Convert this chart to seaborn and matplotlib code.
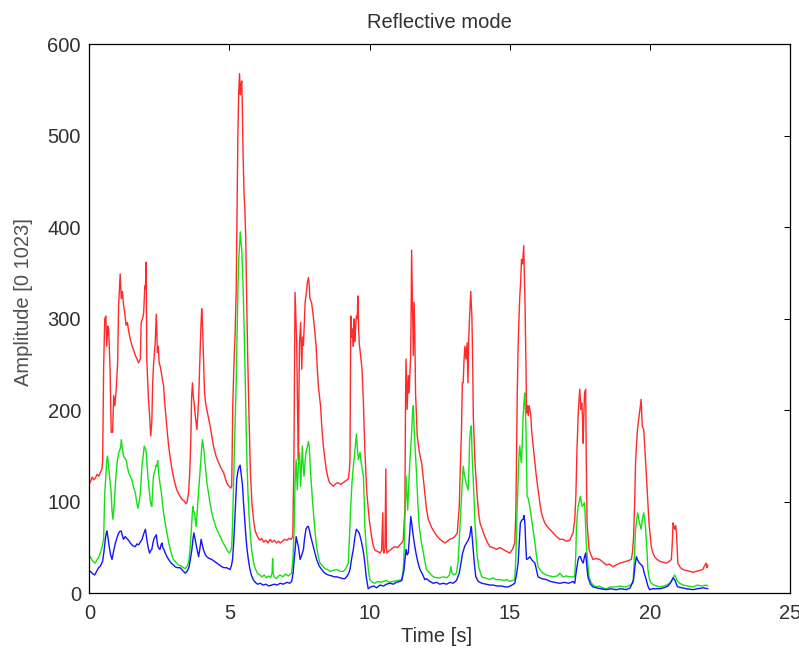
import matplotlib
matplotlib.use("Agg")
import matplotlib.pyplot as plt
import seaborn as sns
import pandas as pd

# Red channel amplitude over time
red_t = [0.00, 0.04, 0.10, 0.16, 0.21, 0.28, 0.34, 0.39, 0.45, 0.475, 0.51, 0.55, 0.59, 0.62, 0.64, 0.66,
         0.69, 0.72, 0.74, 0.78, 0.83, 0.87, 0.91, 0.96, 1.01, 1.045, 1.10, 1.14, 1.18, 1.22, 1.27, 1.31,
         1.36, 1.40, 1.46, 1.52, 1.58, 1.64, 1.70, 1.76, 1.82, 1.85, 1.90, 1.94, 1.98, 2.00, 2.03, 2.05,
         2.08, 2.11, 2.15, 2.19, 2.23, 2.26, 2.29, 2.32, 2.35, 2.37, 2.39, 2.41, 2.43, 2.46, 2.49, 2.53,
         2.57, 2.61, 2.65, 2.68, 2.71, 2.77, 2.83, 2.90, 2.97, 3.04, 3.12, 3.20, 3.30, 3.38, 3.45, 3.48,
         3.51, 3.54, 3.58, 3.62, 3.65, 3.68, 3.71, 3.74, 3.78, 3.84, 3.87, 3.90, 3.95, 3.98, 4.01, 4.03,
         4.05, 4.08, 4.11, 4.15, 4.19, 4.25, 4.31, 4.37, 4.43, 4.52, 4.61, 4.70, 4.79, 4.85, 4.90, 4.96,
         5.02, 5.05, 5.08, 5.10, 5.12, 5.16, 5.20, 5.24, 5.27, 5.30, 5.33, 5.36, 5.39, 5.41, 5.44, 5.46,
         5.49, 5.52, 5.55, 5.58, 5.61, 5.65, 5.70, 5.75, 5.80, 5.86, 5.92, 6.00, 6.08, 6.15, 6.22, 6.30,
         6.38, 6.45, 6.52, 6.60, 6.68, 6.75, 6.81, 6.90, 6.96, 7.05, 7.12, 7.20, 7.26, 7.30, 7.34, 7.37,
         7.40, 7.43, 7.46, 7.48, 7.50, 7.54, 7.56, 7.58, 7.61, 7.64, 7.70, 7.75, 7.78, 7.82, 7.85, 7.87,
         7.93, 7.99, 8.04, 8.09, 8.13, 8.17, 8.25, 8.30, 8.35, 8.40, 8.45, 8.51, 8.57, 8.64, 8.71, 8.80,
         8.89, 8.97, 9.06, 9.15, 9.24, 9.28, 9.30, 9.33, 9.36, 9.39, 9.42, 9.44, 9.47, 9.49, 9.53, 9.56,
         9.58, 9.61, 9.63, 9.68, 9.73, 9.78, 9.83, 9.90, 9.99, 10.07, 10.13, 10.19, 10.28, 10.37, 10.43, 10.47,
         10.49, 10.51, 10.55, 10.58, 10.60, 10.62, 10.68, 10.73, 10.80, 10.90, 11.00, 11.08, 11.15, 11.20, 11.26, 11.28,
         11.30, 11.32, 11.34, 11.38, 11.41, 11.46, 11.48, 11.50, 11.53, 11.56, 11.59, 11.62, 11.64, 11.70, 11.75, 11.80,
         11.86, 11.92, 11.97, 12.03, 12.10, 12.15, 12.21, 12.33, 12.42, 12.51, 12.60, 12.69, 12.78, 12.86, 12.95, 13.04,
         13.13, 13.20, 13.24, 13.28, 13.31, 13.34, 13.37, 13.40, 13.44, 13.48, 13.51, 13.54, 13.57, 13.61, 13.65, 13.68,
         13.70, 13.76, 13.84, 13.90, 13.94, 14.02, 14.11, 14.20, 14.29, 14.40, 14.53, 14.65, 14.76, 14.88, 15.00, 15.10,
         15.18, 15.22, 15.24, 15.27, 15.30, 15.33, 15.36, 15.39, 15.42, 15.46, 15.50, 15.53, 15.55, 15.58, 15.60, 15.63,
         15.66, 15.69, 15.72, 15.75, 15.78, 15.84, 15.90, 15.95, 16.01, 16.07, 16.13, 16.19, 16.25, 16.34, 16.43, 16.55,
         16.67, 16.79, 16.90, 17.02, 17.14, 17.20, 17.26, 17.32, 17.36, 17.40, 17.45, 17.50, 17.54, 17.57, 17.60, 17.62,
         17.65, 17.67, 17.71, 17.73, 17.76, 17.80, 17.83, 17.90, 17.97, 18.08, 18.21, 18.33, 18.45, 18.56, 18.68, 18.80,
         18.92, 19.04, 19.16, 19.25, 19.34, 19.38, 19.42, 19.46, 19.49, 19.53, 19.56, 19.60, 19.63, 19.66, 19.69, 19.71,
         19.73, 19.78, 19.82, 19.85, 19.90, 19.97, 20.05, 20.11, 20.17, 20.26, 20.35, 20.47, 20.59, 20.70, 20.77, 20.80,
         20.83, 20.86, 20.89, 20.92, 20.95, 20.98, 21.00, 21.09, 21.18, 21.30, 21.42, 21.54, 21.66, 21.78, 21.89, 21.95,
         22.01, 22.04, 22.07]
red_v = [120, 122, 127, 124, 126, 130, 128, 132, 136, 145, 245, 300, 303, 270, 282, 292,
         289, 262, 245, 176, 176, 216, 205, 223, 252, 315, 349, 322, 330, 315, 305, 293,
         296, 287, 278, 271, 266, 260, 256, 252, 256, 296, 300, 307, 336, 333, 362, 256,
         235, 212, 195, 172, 187, 230, 249, 262, 274, 290, 305, 282, 263, 270, 252, 248,
         241, 233, 227, 212, 201, 180, 161, 145, 132, 122, 113, 108, 103, 101, 98, 99,
         104, 110, 130, 165, 215, 230, 215, 208, 194, 179, 195, 212, 260, 290, 311, 300,
         282, 250, 219, 208, 201, 192, 183, 172, 161, 150, 143, 137, 132, 126, 121, 118,
         116, 115, 117, 160, 208, 250, 282, 330, 420, 500, 548, 568, 545, 555, 560, 530,
         474, 437, 420, 390, 330, 260, 190, 130, 100, 80, 68, 62, 58, 60, 56, 58,
         55, 59, 56, 58, 55, 57, 55, 57, 59, 58, 60, 59, 62, 146, 329, 300,
         274, 200, 146, 220, 274, 296, 270, 245, 280, 271, 318, 330, 340, 345, 335, 322,
         318, 303, 288, 271, 250, 227, 205, 180, 161, 148, 136, 127, 121, 119, 117, 120,
         121, 119, 121, 123, 125, 135, 146, 303, 280, 289, 270, 300, 275, 285, 303, 300,
         325, 290, 274, 260, 245, 208, 157, 110, 80, 62, 52, 47, 46, 44, 47, 88,
         47, 44, 50, 136, 50, 44, 46, 47, 49, 51, 50, 53, 55, 58, 91, 200,
         256, 230, 201, 238, 219, 256, 300, 375, 320, 260, 318, 270, 219, 172, 160, 150,
         142, 125, 110, 92, 80, 77, 72, 66, 62, 59, 57, 55, 57, 59, 60, 62,
         66, 95, 140, 179, 230, 230, 255, 270, 256, 274, 230, 280, 303, 330, 303, 250,
         194, 143, 106, 85, 77, 70, 62, 56, 51, 50, 48, 50, 48, 46, 44, 48,
         55, 90, 143, 220, 270, 300, 325, 340, 365, 360, 380, 340, 310, 250, 197, 205,
         194, 205, 201, 195, 179, 160, 143, 128, 114, 100, 88, 82, 77, 73, 70, 66,
         62, 59, 59, 57, 58, 62, 66, 80, 106, 157, 201, 223, 201, 208, 190, 164,
         200, 219, 223, 150, 77, 60, 48, 42, 37, 38, 37, 34, 31, 32, 29, 31,
         33, 34, 35, 36, 37, 45, 62, 100, 143, 165, 179, 190, 197, 205, 212, 195,
         183, 179, 160, 143, 114, 77, 51, 44, 40, 37, 35, 34, 33, 35, 37, 55,
         77, 72, 70, 74, 66, 45, 33, 28, 26, 25, 24, 23, 24, 25, 26, 30,
         33, 28, 31]

# Green channel amplitude over time
green_t = [0.00, 0.04, 0.10, 0.16, 0.21, 0.28, 0.34, 0.39, 0.45, 0.51, 0.55, 0.59, 0.62, 0.65, 0.68, 0.71,
           0.75, 0.78, 0.81, 0.84, 0.87, 0.90, 0.93, 0.96, 1.00, 1.05, 1.09, 1.12, 1.14, 1.18, 1.22, 1.26,
           1.31, 1.36, 1.40, 1.46, 1.52, 1.58, 1.64, 1.69, 1.73, 1.78, 1.82, 1.85, 1.88, 1.92, 1.96, 2.00,
           2.03, 2.06, 2.09, 2.13, 2.17, 2.20, 2.23, 2.26, 2.29, 2.32, 2.35, 2.38, 2.41, 2.44, 2.47, 2.52,
           2.57, 2.61, 2.65, 2.71, 2.77, 2.83, 2.89, 2.95, 3.00, 3.09, 3.18, 3.27, 3.36, 3.42, 3.48, 3.52,
           3.56, 3.60, 3.63, 3.66, 3.69, 3.72, 3.75, 3.78, 3.81, 3.85, 3.90, 3.94, 3.98, 4.01, 4.04, 4.07,
           4.10, 4.13, 4.16, 4.20, 4.25, 4.31, 4.37, 4.44, 4.51, 4.59, 4.67, 4.76, 4.85, 4.92, 4.99, 5.04,
           5.08, 5.11, 5.14, 5.17, 5.20, 5.24, 5.27, 5.30, 5.33, 5.36, 5.39, 5.41, 5.44, 5.47, 5.50, 5.53,
           5.56, 5.59, 5.62, 5.66, 5.70, 5.75, 5.80, 5.86, 5.92, 6.00, 6.08, 6.16, 6.24, 6.32, 6.40, 6.47,
           6.52, 6.54, 6.56, 6.60, 6.68, 6.75, 6.81, 6.90, 7.00, 7.10, 7.22, 7.27, 7.31, 7.34, 7.38, 7.42,
           7.46, 7.50, 7.54, 7.57, 7.60, 7.63, 7.66, 7.70, 7.73, 7.78, 7.82, 7.85, 7.87, 7.90, 7.93, 7.97,
           8.02, 8.06, 8.11, 8.17, 8.23, 8.32, 8.41, 8.50, 8.59, 8.70, 8.83, 8.95, 9.06, 9.15, 9.24, 9.28,
           9.32, 9.37, 9.42, 9.46, 9.49, 9.53, 9.56, 9.60, 9.63, 9.66, 9.69, 9.72, 9.78, 9.81, 9.83, 9.88,
           9.92, 9.96, 10.01, 10.10, 10.19, 10.30, 10.40, 10.49, 10.60, 10.70, 10.85, 11.00, 11.14, 11.20, 11.23, 11.27,
           11.30, 11.33, 11.36, 11.40, 11.44, 11.47, 11.50, 11.53, 11.56, 11.59, 11.62, 11.65, 11.68, 11.72, 11.77, 11.82,
           11.87, 11.92, 11.97, 12.03, 12.15, 12.27, 12.39, 12.51, 12.63, 12.75, 12.85, 12.90, 12.94, 13.02, 13.10, 13.16,
           13.22, 13.28, 13.34, 13.38, 13.44, 13.48, 13.52, 13.55, 13.57, 13.60, 13.63, 13.66, 13.70, 13.73, 13.76, 13.80,
           13.84, 13.90, 14.00, 14.10, 14.20, 14.29, 14.40, 14.50, 14.65, 14.80, 14.90, 15.00, 15.10, 15.18, 15.22, 15.26,
           15.30, 15.33, 15.36, 15.39, 15.42, 15.45, 15.48, 15.51, 15.54, 15.56, 15.58, 15.60, 15.62, 15.66, 15.69, 15.73,
           15.78, 15.84, 15.90, 15.95, 16.01, 16.10, 16.19, 16.30, 16.42, 16.55, 16.70, 16.79, 16.90, 17.02, 17.14, 17.26,
           17.32, 17.36, 17.38, 17.41, 17.44, 17.48, 17.52, 17.55, 17.59, 17.63, 17.67, 17.70, 17.73, 17.78, 17.83, 17.90,
           17.97, 18.09, 18.20, 18.30, 18.45, 18.60, 18.80, 18.95, 19.05, 19.16, 19.30, 19.40, 19.45, 19.49, 19.53, 19.57,
           19.60, 19.63, 19.69, 19.73, 19.78, 19.82, 19.85, 19.90, 19.93, 19.99, 20.05, 20.15, 20.25, 20.35, 20.50, 20.60,
           20.71, 20.80, 20.85, 20.89, 20.93, 20.97, 21.06, 21.20, 21.35, 21.54, 21.70, 21.85, 22.01, 22.07]
green_v = [38, 40, 36, 34, 33, 37, 40, 44, 50, 59, 110, 128, 145, 150, 140, 132,
           120, 110, 90, 81, 90, 102, 120, 132, 145, 154, 157, 160, 168, 158, 150, 148,
           146, 138, 132, 128, 124, 116, 110, 100, 93, 100, 110, 125, 139, 150, 161, 158,
           154, 140, 128, 115, 102, 97, 95, 115, 128, 132, 135, 140, 139, 145, 132, 120,
           110, 98, 88, 76, 66, 56, 48, 41, 37, 34, 31, 30, 28, 27, 29, 32,
           37, 50, 66, 80, 95, 90, 88, 80, 73, 90, 110, 128, 146, 160, 168, 160,
           154, 142, 132, 120, 110, 98, 88, 80, 73, 67, 62, 56, 51, 47, 44, 46,
           51, 75, 110, 150, 183, 230, 280, 330, 365, 380, 395, 385, 375, 350, 320, 280,
           240, 190, 150, 110, 85, 62, 45, 34, 27, 22, 20, 18, 20, 17, 19, 17,
           22, 38, 22, 18, 16, 19, 20, 18, 21, 19, 22, 40, 73, 120, 146, 113,
           140, 154, 117, 140, 161, 140, 128, 145, 154, 160, 166, 160, 146, 130, 117, 98,
           80, 65, 51, 40, 33, 30, 27, 26, 24, 25, 26, 24, 24, 27, 33, 60,
           91, 120, 139, 150, 161, 174, 160, 146, 150, 154, 145, 139, 128, 100, 73, 50,
           37, 25, 15, 12, 11, 13, 12, 13, 14, 12, 13, 14, 15, 25, 44, 90,
           128, 110, 91, 120, 146, 160, 176, 195, 205, 180, 161, 145, 128, 100, 73, 62,
           52, 44, 35, 26, 22, 18, 17, 17, 18, 17, 20, 29, 22, 20, 22, 35,
           70, 105, 139, 130, 121, 117, 113, 140, 168, 178, 183, 150, 124, 100, 77, 58,
           41, 28, 18, 17, 16, 15, 17, 15, 15, 14, 15, 13, 14, 15, 40, 88,
           125, 150, 161, 150, 143, 170, 194, 210, 219, 200, 179, 140, 106, 104, 99, 92,
           81, 68, 55, 42, 29, 25, 22, 20, 19, 18, 19, 22, 18, 19, 18, 18,
           18, 45, 70, 85, 95, 100, 106, 100, 95, 97, 99, 80, 55, 35, 18, 12,
           9, 7, 8, 6, 5, 7, 7, 8, 7, 7, 9, 11, 40, 70, 80, 88,
           82, 77, 70, 80, 88, 80, 70, 45, 26, 15, 11, 9, 8, 7, 8, 9,
           11, 15, 18, 20, 17, 14, 11, 9, 8, 7, 9, 8, 9, 8]

# Blue channel amplitude over time
blue_t = [0.00, 0.04, 0.10, 0.19, 0.26, 0.33, 0.40, 0.475, 0.52, 0.57, 0.60, 0.63, 0.67, 0.71, 0.76, 0.81,
          0.86, 0.93, 1.00, 1.05, 1.10, 1.14, 1.18, 1.22, 1.28, 1.34, 1.40, 1.46, 1.55, 1.64, 1.70, 1.76,
          1.82, 1.88, 1.94, 2.00, 2.02, 2.05, 2.10, 2.15, 2.20, 2.23, 2.27, 2.30, 2.35, 2.39, 2.42, 2.45,
          2.49, 2.52, 2.56, 2.59, 2.62, 2.66, 2.71, 2.77, 2.85, 2.92, 3.00, 3.06, 3.15, 3.24, 3.33, 3.42,
          3.49, 3.56, 3.61, 3.66, 3.70, 3.73, 3.77, 3.80, 3.85, 3.90, 3.95, 3.99, 4.03, 4.07, 4.13, 4.19,
          4.28, 4.37, 4.46, 4.55, 4.64, 4.73, 4.81, 4.90, 4.96, 5.02, 5.07, 5.11, 5.15, 5.18, 5.22, 5.26,
          5.30, 5.34, 5.38, 5.42, 5.46, 5.50, 5.54, 5.58, 5.62, 5.67, 5.72, 5.78, 5.85, 5.92, 6.00, 6.10,
          6.20, 6.30, 6.40, 6.50, 6.60, 6.70, 6.81, 6.92, 7.05, 7.15, 7.22, 7.27, 7.31, 7.35, 7.38, 7.42,
          7.46, 7.52, 7.58, 7.64, 7.68, 7.73, 7.78, 7.82, 7.86, 7.90, 7.95, 7.99, 8.05, 8.11, 8.20, 8.29,
          8.40, 8.53, 8.65, 8.75, 8.83, 8.95, 9.05, 9.12, 9.20, 9.26, 9.30, 9.36, 9.42, 9.47, 9.53, 9.58,
          9.63, 9.68, 9.72, 9.78, 9.83, 9.88, 9.95, 10.04, 10.15, 10.25, 10.37, 10.50, 10.60, 10.73, 10.85, 10.95,
          11.08, 11.15, 11.23, 11.30, 11.34, 11.38, 11.43, 11.47, 11.51, 11.56, 11.62, 11.68, 11.74, 11.80, 11.90, 11.97,
          12.03, 12.15, 12.27, 12.40, 12.50, 12.63, 12.75, 12.88, 12.98, 13.10, 13.20, 13.26, 13.32, 13.40, 13.46, 13.52,
          13.57, 13.60, 13.63, 13.66, 13.70, 13.74, 13.79, 13.88, 14.00, 14.15, 14.30, 14.41, 14.55, 14.70, 14.85, 14.94,
          15.08, 15.18, 15.24, 15.30, 15.34, 15.38, 15.43, 15.48, 15.51, 15.54, 15.57, 15.60, 15.66, 15.72, 15.80, 15.90,
          15.96, 16.01, 16.15, 16.31, 16.45, 16.60, 16.79, 16.95, 17.10, 17.26, 17.32, 17.38, 17.44, 17.48, 17.52, 17.57,
          17.62, 17.67, 17.71, 17.75, 17.79, 17.88, 17.97, 18.10, 18.25, 18.45, 18.60, 18.80, 18.95, 19.16, 19.30, 19.42,
          19.47, 19.52, 19.57, 19.63, 19.70, 19.75, 19.80, 19.87, 19.93, 19.99, 20.10, 20.25, 20.35, 20.50, 20.65, 20.75,
          20.83, 20.90, 20.96, 21.00, 21.15, 21.30, 21.54, 21.70, 21.90, 22.07]
blue_v = [24, 24, 22, 20, 24, 28, 30, 35, 45, 59, 65, 68, 60, 51, 42, 37,
          45, 55, 62, 66, 68, 68, 63, 59, 62, 60, 58, 55, 52, 51, 54, 53,
          56, 59, 65, 70, 66, 59, 50, 44, 47, 48, 55, 59, 62, 64, 56, 51,
          49, 48, 53, 55, 50, 48, 44, 40, 36, 33, 31, 29, 28, 28, 25, 22,
          24, 29, 38, 48, 60, 66, 60, 55, 47, 40, 50, 59, 53, 48, 43, 40,
          38, 37, 35, 33, 31, 29, 28, 28, 27, 26, 30, 37, 55, 73, 100, 125,
          133, 138, 140, 130, 120, 100, 82, 65, 50, 38, 28, 20, 15, 12, 10, 11,
          9, 10, 8, 9, 10, 9, 11, 10, 12, 11, 13, 22, 37, 50, 62, 56,
          51, 37, 42, 48, 60, 70, 73, 73, 68, 62, 56, 51, 44, 37, 30, 26,
          22, 20, 19, 18, 18, 17, 16, 16, 19, 22, 26, 38, 48, 60, 70, 68,
          66, 60, 55, 45, 33, 18, 5, 7, 8, 6, 9, 8, 10, 11, 10, 12,
          13, 14, 26, 48, 42, 44, 65, 84, 75, 62, 50, 40, 32, 26, 20, 15,
          16, 13, 11, 12, 10, 11, 10, 12, 11, 14, 22, 33, 44, 52, 55, 58,
          62, 68, 73, 62, 48, 32, 18, 13, 11, 10, 9, 9, 8, 8, 7, 7,
          9, 11, 20, 33, 55, 77, 80, 81, 85, 77, 55, 37, 38, 40, 36, 33,
          25, 18, 16, 15, 13, 12, 11, 12, 11, 13, 11, 25, 37, 40, 40, 36,
          33, 40, 44, 30, 18, 10, 7, 6, 5, 4, 5, 4, 5, 4, 6, 15,
          30, 40, 36, 33, 31, 29, 22, 15, 8, 4, 5, 5, 5, 6, 8, 12,
          17, 14, 9, 7, 6, 5, 4, 5, 6, 5]

x_ticks = [0, 5, 10, 15, 20, 25]
y_ticks = [0, 100, 200, 300, 400, 500, 600]

sns.set_theme(style="white")
plt.rcParams["font.family"] = ["Liberation Sans", "DejaVu Sans"]
text_color = "#303030"

fig = plt.figure(figsize=(7.99, 6.52), dpi=100)
ax = fig.add_axes([0.1118, 0.090, 0.8769, 0.842])

channels = [
    (red_t, red_v, "#ff2a2a"),
    (green_t, green_v, "#14e014"),
    (blue_t, blue_v, "#1414ff"),
]
for t, v, c in channels:
    df = pd.DataFrame({"t": t, "v": v})
    sns.lineplot(data=df, x="t", y="v", color=c, linewidth=1.0,
                 estimator=None, sort=False, ax=ax)

ax.set_xlim(0, 25)
ax.set_ylim(0, 600)
ax.set_xticks(x_ticks)
ax.set_yticks(y_ticks)
ax.set_xticklabels([str(x) for x in x_ticks])
ax.set_yticklabels([str(y) for y in y_ticks])

ax.tick_params(direction="in", length=4.3, width=0.75, colors="black",
               top=True, right=True, labelsize=14.5, labelcolor=text_color)
ax.tick_params(axis="x", pad=8.0)
ax.tick_params(axis="y", pad=6.0)
for s in ax.spines.values():
    s.set_color("black")
    s.set_linewidth(0.9)
    s.set_visible(True)

ax.set_title("Reflective mode", fontsize=14.5, color=text_color, pad=11.5)
ax.set_xlabel("Time [s]", fontsize=14.5, color=text_color)
ax.set_ylabel("Amplitude [0 1023]", fontsize=14.5, color="#505050")
ax.xaxis.set_label_coords(0.495, -0.062)
ax.yaxis.set_label_coords(-0.080, 0.53)

fig.savefig("out.png", dpi=100, facecolor="white")
